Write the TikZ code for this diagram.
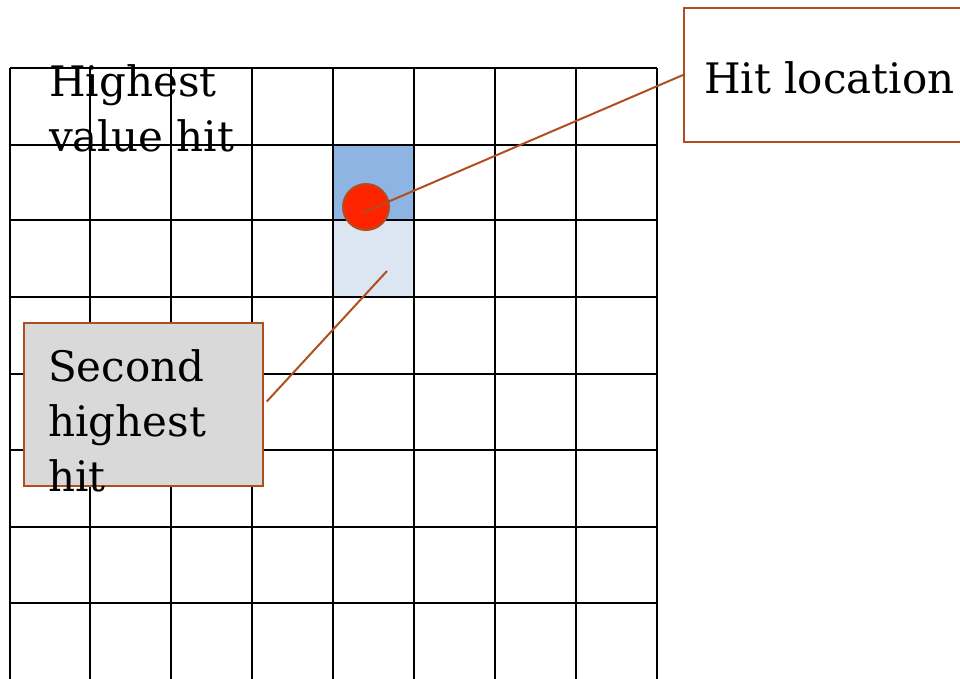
\documentclass[tikz,border=0pt]{standalone}
\usepackage{fontspec}
\setmainfont{DejaVu Serif}
\definecolor{hitbrown}{RGB}{176,78,32}
\definecolor{hitred}{RGB}{255,36,0}
\definecolor{celldark}{RGB}{142,180,227}
\definecolor{celllight}{RGB}{220,230,242}
\definecolor{boxgray}{RGB}{217,217,217}
\begin{document}
\begin{tikzpicture}[x=1pt,y=-1pt]
    \useasboundingbox (0,0) rectangle (960,678);
    \clip (0,0) rectangle (960,678);
    \tikzstyle{bigtext}=[inner sep=0pt,align=left,font=\fontsize{42}{55}\selectfont]
    \tikzstyle{callout}=[draw=hitbrown,line width=2pt,inner sep=0pt]
    \tikzstyle{lead}=[draw=hitbrown,line width=2pt]

    %%%%%%%%%%%%%%%%%%%%%%%%%%%%%%%%%%%%%% Cases
    \fill[celldark] (333,145) rectangle (414,220);
    \fill[celllight] (333,220) rectangle (414,297);

    %%%%%%%%%%%%%%%%%%%%%%%%%%%%%%%%%%%%%% Grille
    \foreach \x in {10,90,171,252,333,414,495,576,657}
        \draw[line width=2pt] (\x,68)--(\x,690);
    \foreach \y in {68,145,220,297,374,450,527,603}
        \draw[line width=2pt] (10,\y)--(657,\y);

    %%%%%%%%%%%%%%%%%%%%%%%%%%%%%%%%%%%%%% Textes
    \node[bigtext,anchor=north west] (highest) at (49,64) {Highest\\value hit};

    \node[callout,fill=boxgray,minimum width=239pt,minimum height=163pt] (secbox) at (143.5,404.5){};
    \node[bigtext,anchor=north west] (sectext) at (48,349) {Second\\highest\\hit};

    \node[callout,fill=white,minimum width=300pt,minimum height=134pt] (hitloc) at (834,75){};
    \node[bigtext,anchor=west] (hittext) at (704,78) {Hit location};

    %%%%%%%%%%%%%%%%%%%%%%%%%%%%%%%%%%%%%% Impact
    \node[circle,fill=hitred,draw=hitbrown,line width=2pt,minimum size=46pt,inner sep=0pt] (dot) at (366,207){};
    \coordinate (dotc) at (362,213);
    \coordinate (second) at (387,271);

    \draw[lead] (hitloc.west)--(dotc);
    \draw[lead,shorten <=4pt] (secbox.east)--(second);
\end{tikzpicture}
\end{document}
